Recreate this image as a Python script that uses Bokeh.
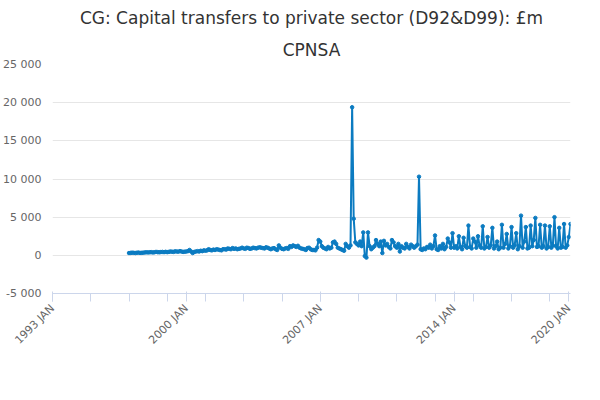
import pandas as pd
from bokeh.plotting import figure
from bokeh.models import FixedTicker, CustomJSTickFormatter, Legend, LegendItem, Title, Range1d
from bokeh.embed import file_html
from bokeh.resources import INLINE
import datetime as dt

values_by_year = {
1997: [300,320,350,330,300,340,360,320,330,350,380,400],
1998: [380,400,420,380,400,450,420,400,430,450,420,460],
1999: [420,450,500,480,450,520,500,480,550,500,450,480],
2000: [500,550,700,500,300,450,500,550,500,600,550,650],
2001: [600,650,800,700,650,750,700,800,750,700,650,800],
2002: [800,750,900,850,800,950,850,900,800,850,900,1000],
2003: [900,850,1000,950,850,900,1000,950,900,1000,1050,1000],
2004: [950,900,1050,1000,900,800,900,950,800,700,1300,1000],
2005: [850,800,900,950,850,1200,1100,1300,1200,1100,1250,1000],
2006: [900,850,800,700,950,1000,800,700,700,650,1000,2000],
2007: [1800,1200,1000,900,800,1100,900,1000,1700,1800,1500,1000],
2008: [900,800,700,600,1500,1200,1000,1300,19400,4800,1700,1500],
2009: [1300,1800,1200,3000,-100,-300,3000,1200,800,1000,1200,2000],
2010: [1500,1200,1800,300,1900,1300,1500,1100,900,2000,1700,1200],
2011: [1000,1500,500,1200,1000,900,1500,1100,900,1400,1200,1000],
2012: [1200,1400,10300,800,700,900,800,1100,1000,1400,900,1200],
2013: [2600,800,700,1200,900,1500,800,1100,2200,1700,1000,2900],
2014: [1000,1200,900,2500,1100,800,2300,1200,1000,3900,1100,900],
2015: [2200,1800,1000,2500,1300,1000,3800,900,1100,2400,1000,1300],
2016: [3600,900,1200,1800,800,1000,4000,1000,1500,2800,900,1200],
2017: [3700,1000,1300,2900,800,1200,5200,1000,1800,3700,900,1000],
2018: [3900,1200,2000,4900,1100,1200,4000,1000,1200,3900,900,1100],
2019: [3800,1000,1300,5000,1200,900,3600,1000,1100,4100,1000,1300],
2020: [2400,4100],
}
series_name = "CG: Capital transfers to private sector (D92&D99): £m CPNSA"
tick_years = [1993, 2000, 2007, 2014, 2020]
y_ticks = [-5000, 0, 5000, 10000, 15000, 20000, 25000]

def ms(y, m=1):
    return (dt.datetime(y, m, 1) - dt.datetime(1970, 1, 1)).total_seconds() * 1000

dates, vals = [], []
for y, arr in values_by_year.items():
    for m, v in enumerate(arr):
        dates.append(dt.datetime(y, m + 1, 1)); vals.append(v)

color = "#0b7bc1"
p = figure(frame_width=518, frame_height=229, x_axis_type="datetime", output_backend="svg",
           toolbar_location=None, min_border_left=10, min_border_right=8,
           x_range=Range1d(ms(1993), ms(2020, 2)), y_range=Range1d(-5000, 25000))
p.title.text = "CG: Capital transfers to private sector (D92&D99): £m"
p.title.align = "center"; p.title.text_font = "DejaVu Sans"; p.title.text_font_size = "17px"
p.title.text_font_style = "normal"; p.title.text_color = "#333333"
p.add_layout(Title(text="CPNSA", align="center", text_font="DejaVu Sans",
                   text_font_size="17px", text_font_style="normal", text_color="#333333"), "above")
p.above = p.above[::-1]

r = p.line(dates, vals, color=color, line_width=2)
c = p.scatter(dates, vals, color=color, size=3.5)

p.xaxis.ticker = FixedTicker(ticks=[ms(y) for y in tick_years],
                             minor_ticks=[ms(y) for y in range(1993, 2021, 2)])
p.xaxis.formatter = CustomJSTickFormatter(code="return new Date(tick).getUTCFullYear() + ' JAN';")
p.xaxis.major_label_orientation = 0.785
p.yaxis.ticker = FixedTicker(ticks=y_ticks)
p.yaxis.formatter = CustomJSTickFormatter(code="return tick.toString().replace(/\\B(?=(\\d{3})+(?!\\d))/g, ' ');")
for ax in (p.xaxis, p.yaxis):
    ax.major_label_text_font = "DejaVu Sans"; ax.major_label_text_font_size = "11px"
    ax.major_label_text_color = "#666666"
p.yaxis.axis_line_color = None; p.yaxis.major_tick_line_color = None; p.yaxis.minor_tick_line_color = None
p.xaxis.axis_line_color = "#ccd6eb"; p.xaxis.major_tick_line_color = "#ccd6eb"
p.xaxis.minor_tick_line_color = "#ccd6eb"; p.xaxis.minor_tick_in = 0; p.xaxis.minor_tick_out = 8
p.xaxis.major_tick_out = 8
p.xgrid.grid_line_color = None; p.ygrid.grid_line_color = "#e6e6e6"
p.outline_line_color = None

leg = Legend(items=[LegendItem(label=series_name, renderers=[r, c])],
             orientation="horizontal", label_text_font="DejaVu Sans", label_text_font_size="12px",
             label_text_font_style="bold", label_text_color="#333333", border_line_color=None,
             padding=2, margin=2)
p.add_layout(leg, "below")
p.add_layout(Title(text="Source:", align="right", text_font="DejaVu Sans", text_font_size="12px",
                   text_font_style="normal", text_color="#333333", standoff=0), "below")

open("out.html", "w").write(file_html(p, INLINE))
